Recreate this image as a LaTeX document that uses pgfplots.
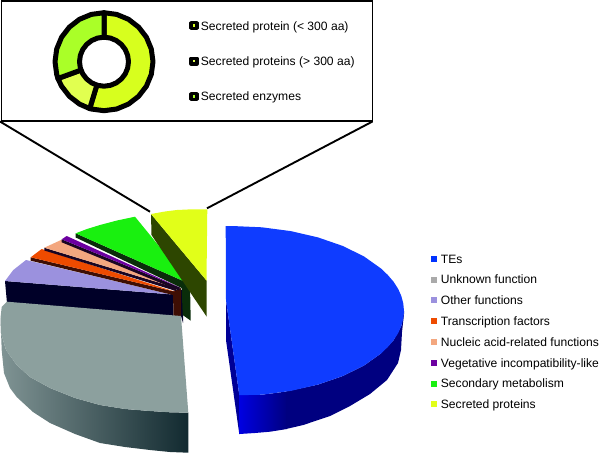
\documentclass[border=0pt]{standalone}
\usepackage{pgfplots}
\pgfplotsset{compat=1.18}
\usepackage{fontspec}
\setmainfont{Liberation Sans}
\definecolor{cBlue}{RGB}{15,60,255}
\definecolor{cBlueL}{RGB}{0,50,255}
\definecolor{cGrey}{RGB}{140,160,158}
\definecolor{cGreyL}{RGB}{170,170,170}
\definecolor{cLav}{RGB}{155,145,222}
\definecolor{cOra}{RGB}{238,75,0}
\definecolor{cPea}{RGB}{243,167,127}
\definecolor{cPur}{RGB}{108,0,160}
\definecolor{cGre}{RGB}{25,240,15}
\definecolor{cYel}{RGB}{225,255,25}
\definecolor{dNavy}{RGB}{0,0,40}
\definecolor{dMar}{RGB}{62,14,4}
\definecolor{dGre}{RGB}{10,45,10}
\definecolor{dOli}{RGB}{45,70,0}
\definecolor{dBlk}{RGB}{25,5,35}
\definecolor{rA}{RGB}{215,255,30}
\definecolor{rB}{RGB}{225,255,80}
\definecolor{rC}{RGB}{170,255,40}
\newcommand{\lf}{\fontsize{12.1}{14}\selectfont}
\begin{document}
\begin{tikzpicture}
\begin{axis}[
  scale only axis, width=600pt, height=453pt,
  xmin=0, xmax=600, ymin=0, ymax=453, y dir=reverse,
  hide axis, clip=true
]
\path (axis cs:0,0) rectangle (axis cs:600,453);
% inset box and connectors
\addplot[black, line width=1.9pt] coordinates {(0,121.5) (150,211.7)};
\addplot[black, line width=1.9pt] coordinates {(372.5,121.5) (207,208.3)};
\addplot[draw=black, fill=white, line width=1.9pt] coordinates {(1.5,1) (372.5,1) (372.5,121) (1.5,121)} -- cycle;
% doughnut
\addplot[draw=black, fill=rA, line width=5pt, line join=round] coordinates {(104,61.7) (104,12.7) (116.7,14.4) (128.5,19.3) (138.6,27.1) (146.4,37.2) (151.3,49) (153,61.7) (151.3,74.4) (146.4,86.2) (138.6,96.3) (128.5,104.1) (116.7,109) (104,110.7) (91.3,109) (89.7,108.6)} -- cycle;
\addplot[draw=black, fill=rB, line width=5pt, line join=round] coordinates {(104,61.7) (89.7,108.6) (79.5,104.1) (69.4,96.3) (61.6,86.2) (57.9,78.5)} -- cycle;
\addplot[draw=black, fill=rC, line width=5pt, line join=round] coordinates {(104,61.7) (57.9,78.5) (56.7,74.4) (55,61.7) (56.7,49) (61.6,37.2) (69.4,27.1) (79.5,19.3) (91.3,14.4) (104,12.7)} -- cycle;
\addplot[draw=black, fill=white, line width=5pt, line join=round] coordinates {(104,37.2) (110.35,38.05) (116.25,40.5) (121.3,44.4) (125.2,49.45) (127.65,55.35) (128.5,61.7) (127.65,68.05) (125.2,73.95) (121.3,79) (116.25,82.9) (110.35,85.35) (104,86.2) (97.65,85.35) (91.75,82.9) (86.7,79) (82.8,73.95) (80.35,68.05) (79.5,61.7) (80.35,55.35) (82.8,49.45) (86.7,44.4) (91.75,40.5) (97.65,38.05)} -- cycle;
% inset legend keys
\addplot[draw=black, fill=rA, line width=3.2pt, line join=round] coordinates {(191,22.6) (197,22.6) (197,28.4) (191,28.4)} -- cycle;
\addplot[draw=black, fill=rB, line width=3.2pt, line join=round] coordinates {(191,58.1) (197,58.1) (197,63.9) (191,63.9)} -- cycle;
\addplot[draw=black, fill=rC, line width=3.2pt, line join=round] coordinates {(191,93.6) (197,93.6) (197,99.4) (191,99.4)} -- cycle;
\node[anchor=base west, inner sep=0pt, font=\lf] at (axis cs:200.7,30) {Secreted protein (< 300 aa)};
\node[anchor=base west, inner sep=0pt, font=\lf] at (axis cs:200.7,65.3) {Secreted proteins (> 300 aa)};
\node[anchor=base west, inner sep=0pt, font=\lf] at (axis cs:200.7,100.7) {Secreted enzymes};
% exploded pie, back slices: sides
\addplot[fill=dNavy, draw=none] coordinates {(181,290) (183,290) (183,323) (181,316)} -- cycle;
\addplot[fill=dNavy, draw=none] coordinates {(5,281) (170,294.3) (173,294) (173.5,316) (7,303)} -- cycle;
\addplot[fill=cLav, draw=none] coordinates {(5,281) (13.3,270) (26,260) (170,294.3)} -- cycle;
\addplot[fill=dMar, draw=none] coordinates {(173,291) (181,288) (181,316) (173.5,316)} -- cycle;
\addplot[fill=dMar, draw=none] coordinates {(30.7,257.3) (175,291.7) (173,295) (30.7,260.7)} -- cycle;
\addplot[fill=cOra, draw=none] coordinates {(30.7,257.3) (41.7,249) (175,291.7)} -- cycle;
\addplot[fill=dBlk, draw=none] coordinates {(44.3,247.7) (176.7,288) (176,291) (44.3,250.5)} -- cycle;
\addplot[fill=cPea, draw=none] coordinates {(44.3,247.7) (61,240) (176.7,288)} -- cycle;
\addplot[fill=dBlk, draw=none] coordinates {(61.7,239.3) (180,287.5) (179,290.5) (61.7,242.3)} -- cycle;
\addplot[fill=cPur, draw=none] coordinates {(61.7,239.3) (66.7,236) (180,287.5)} -- cycle;
\addplot[fill=dGre, draw=none] coordinates {(75.7,233.3) (190,284) (190.7,320.7) (182.7,315) (181.7,288) (75.7,237.5)} -- cycle;
\addplot[fill=cGre, draw=none] coordinates {(75.7,233.3) (87,229) (100,225) (117,220.5) (135,216.7) (190,284)} -- cycle;
\addplot[fill=dOli, draw=none] coordinates {(151,214) (206.5,280.5) (206.7,316.7) (151.5,235)} -- cycle;
\addplot[fill=cYel, draw=none] coordinates {(151,214) (165,211.5) (176.7,210) (192,209.3) (207.3,209.3) (206.5,280.5)} -- cycle;
% grey slice
\addplot[draw=none, left color={rgb,255:red,128;green,148;blue,148}, right color={rgb,255:red,18;green,42;blue,48}] coordinates {(0.5,318) (1,333) (6,350) (16.7,365) (30,377) (50,388) (75,398) (100,405) (125,409) (150,411) (170,412.3) (188.3,412.7) (188.3,452.7) (170,452) (150,450) (125,447) (100,443) (75,434) (50,423) (33,412) (16.7,397) (10,388) (4,373) (1.7,350)} -- cycle;
\addplot[fill=cGrey, draw=none] coordinates {(7,301.7) (1.7,307) (0.5,318) (1,333) (6,350) (16.7,365) (30,377) (50,388) (75,398) (100,405) (125,409) (150,411) (170,412.3) (188.3,412.7) (181,316)} -- cycle;
% blue slice
\addplot[fill={rgb,255:red,0;green,0;blue,150}, draw=none] coordinates {(226,300) (226,340) (239.3,434) (239.3,395.2)} -- cycle;
\addplot[draw=none, left color={rgb,255:red,0;green,0;blue,225}, right color={rgb,255:red,0;green,0;blue,128}] coordinates {(239.3,395.2) (261.9,394.7) (287,391.5) (287,429) (270,431.7) (255,433) (239.3,434)} -- cycle;
\addplot[fill={rgb,255:red,0;green,0;blue,128}, draw=none] coordinates {(286,391.5) (318,384.6) (342.6,376.1) (363.8,365.7) (381,353.5) (393.7,340.1) (401.4,325.8) (404,311) (404,314) (402,332) (401,350) (398,363) (387,380) (370,394) (350,406) (330,416) (303.3,425) (286,429)} -- cycle;
\addplot[fill=cBlue, draw=none] coordinates {(225.7,226) (232,226) (261.9,227.3) (290.8,231.1) (318,237.4) (342.6,245.9) (363.8,256.3) (381,268.5) (387.8,275) (393.7,281.9) (398.2,289) (401.4,296.2) (403.3,303.6) (404,311) (403.3,318.4) (401.4,325.8) (398.2,333) (393.7,340.1) (387.8,347) (381,353.5) (363.8,365.7) (342.6,376.1) (318,384.6) (290.8,390.9) (261.9,394.7) (239.3,395.2) (226,300)} -- cycle;
% legend
\addplot[fill=cBlueL, draw=none] coordinates {(430.7,256) (436.7,256) (436.7,262) (430.7,262)} -- cycle;
\addplot[fill=cGreyL, draw=none] coordinates {(430.7,276.7) (436.7,276.7) (436.7,282.7) (430.7,282.7)} -- cycle;
\addplot[fill=cLav, draw=none] coordinates {(430.7,297.3) (436.7,297.3) (436.7,303.3) (430.7,303.3)} -- cycle;
\addplot[fill=cOra, draw=none] coordinates {(430.7,318) (436.7,318) (436.7,324) (430.7,324)} -- cycle;
\addplot[fill=cPea, draw=none] coordinates {(430.7,338.7) (436.7,338.7) (436.7,344.7) (430.7,344.7)} -- cycle;
\addplot[fill=cPur, draw=none] coordinates {(430.7,359.7) (436.7,359.7) (436.7,365.7) (430.7,365.7)} -- cycle;
\addplot[fill=cGre, draw=none] coordinates {(430.7,380.7) (436.7,380.7) (436.7,386.7) (430.7,386.7)} -- cycle;
\addplot[fill=cYel, draw=none] coordinates {(430.7,401.3) (436.7,401.3) (436.7,407.3) (430.7,407.3)} -- cycle;
\node[anchor=base west, inner sep=0pt, font=\lf] at (axis cs:440.7,263) {TEs};
\node[anchor=base west, inner sep=0pt, font=\lf] at (axis cs:440.7,283.7) {Unknown function};
\node[anchor=base west, inner sep=0pt, font=\lf] at (axis cs:440.7,304.3) {Other functions};
\node[anchor=base west, inner sep=0pt, font=\lf] at (axis cs:440.7,325.3) {Transcription factors};
\node[anchor=base west, inner sep=0pt, font=\lf] at (axis cs:440.7,346) {Nucleic acid-related functions};
\node[anchor=base west, inner sep=0pt, font=\lf] at (axis cs:440.7,367) {Vegetative incompatibility-like};
\node[anchor=base west, inner sep=0pt, font=\lf] at (axis cs:440.7,387.7) {Secondary metabolism};
\node[anchor=base west, inner sep=0pt, font=\lf] at (axis cs:440.7,408.7) {Secreted proteins};
\end{axis}
\end{tikzpicture}
\end{document}
